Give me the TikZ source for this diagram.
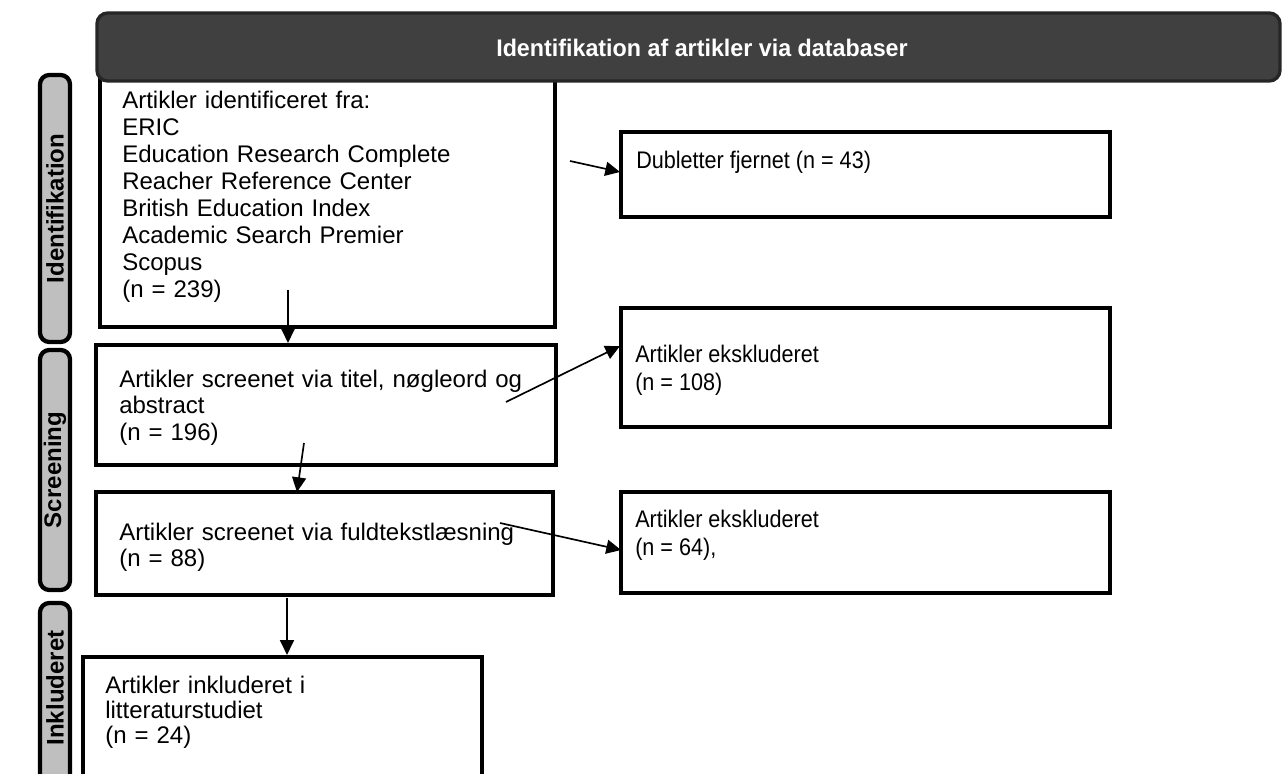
\documentclass[tikz,border=0pt]{standalone}
\usepackage{fontspec}
\setmainfont{Liberation Sans}
\usetikzlibrary{arrows.meta,fit,calc}
\definecolor{hdrfill}{RGB}{64,64,64}
\definecolor{hdrline}{RGB}{38,38,38}
\definecolor{lblfill}{RGB}{191,191,191}
\newcommand{\narrowtext}[2]{\scalebox{0.9}[1]{\parbox[t]{380pt}{\raggedright\baselineskip=#1 #2}}}
\begin{document}
\begin{tikzpicture}[x=0.75pt,y=-0.75pt,
  box/.style={draw=black, line width=3.2pt, inner sep=0pt},
  lab/.style={draw=black, line width=3.2pt, fill=lblfill, rounded corners=7pt, inner sep=0pt},
  hdr/.style={draw=hdrline, line width=2.5pt, fill=hdrfill, rounded corners=8pt, inner sep=0pt},
  txt/.style={font=\fontsize{18}{20.2}\selectfont, align=left, inner sep=0pt, anchor=base west, text width=330pt},
  rtxt/.style={font=\fontsize{18}{21.7}\selectfont, inner sep=0pt, anchor=base west},
  labtxt/.style={font=\bfseries\fontsize{18}{20}\selectfont, rotate=90, inner sep=0pt},
  arr/.style={line width=1.25pt, -{Triangle[length=11pt,width=10.5pt]}}]
\clip (0,0) rectangle (1283,774);
\fill[white] (0,0) rectangle (1283,774);

% boxes
\node[box, fit={(100,60)(555,327)}] (b1) {};
\node[box, fit={(621,132)(1110,217)}] (b2) {};
\node[box, fit={(96,345)(556,465)}] (b3) {};
\node[box, fit={(621,308)(1110,427)}] (b4) {};
\node[box, fit={(96,492)(553,595)}] (b5) {};
\node[box, fit={(621,492)(1110,593)}] (b6) {};
\node[box, fit={(83,657)(482,800)}] (b7) {};

% header
\node[hdr, fit={(97,13)(1280,81)}] (hd) {};
\node[font=\bfseries\fontsize{18}{20}\selectfont, text=white, inner sep=0pt] (hdt) at (702,48) {\scalebox{0.97}[1]{Identifikation af artikler via databaser}};

% side labels
\node[lab, fit={(40,75)(70,342)}] (l1) {};
\node[labtxt] (l1t) at (l1.center) {Identifikation};
\node[lab, fit={(40,350)(70,590)}] (l2) {};
\node[labtxt] (l2t) at (l2.center) {Screening};
\node[lab, fit={(40,603)(70,820)}] (l3) {};
\node[labtxt] (l3t) at (55,688) {Inkluderet};

% texts
\node[txt] (t1) at (122,109) {Artikler identificeret fra:\\ERIC\\Education Research Complete\\Reacher Reference Center\\British Education Index\\Academic Search Premier\\Scopus\\(n = 239)};
\node[rtxt] (t2) at (636,168) {\narrowtext{21.7pt}{Dubletter fjernet (n = 43)}};
\node[txt] (t3) at (119,387) {Artikler screenet via titel, nøgleord og\\abstract\\(n = 196)};
\node[rtxt] (t4) at (635,362) {\narrowtext{21.7pt}{Artikler ekskluderet\\(n = 108)}};
\node[txt] (t5) at (119,540) {Artikler screenet via fuldtekstlæsning\\(n = 88)};
\node[rtxt] (t6) at (635,527) {\narrowtext{21.7pt}{Artikler ekskluderet\\(n = 64),}};
\node[txt, font=\fontsize{18}{18.9}\selectfont] (t7) at (105,693) {Artikler inkluderet i\\litteraturstudiet\\(n = 24)};

% connector points
\coordinate (s1) at (288,290);
\coordinate (s2) at (304,443);
\coordinate (e2) at (297,492);
\coordinate (s3) at (287,598);
\coordinate (s4) at (570,161);
\coordinate (e4) at (620,172);
\coordinate (s5) at (506,402);
\coordinate (e5) at (620,346);
\coordinate (s6) at (500,523);
\coordinate (e6) at (621,550);

\draw[arr] (s1) -- (s1 |- b3.north);
\draw[arr] (s2) -- (e2);
\draw[arr] (s3) -- (s3 |- b7.north);
\draw[arr] (s4) -- (e4);
\draw[arr] (s5) -- (e5);
\draw[arr] (s6) -- (e6);
\end{tikzpicture}
\end{document}
